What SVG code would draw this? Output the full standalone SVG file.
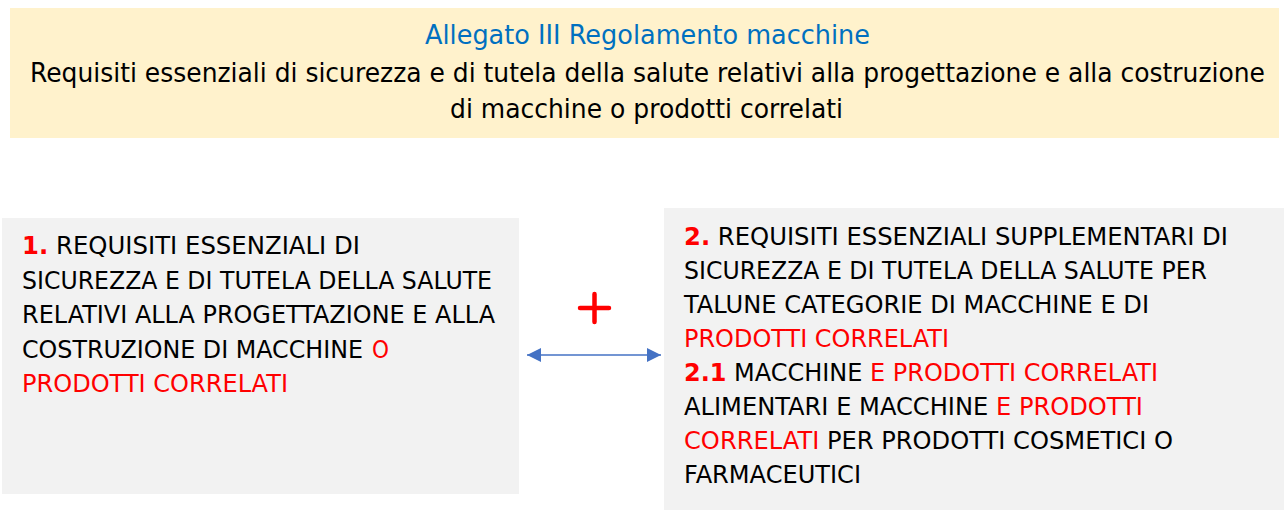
<svg xmlns="http://www.w3.org/2000/svg" width="1284" height="511" viewBox="0 0 1284 511">
<style>
.t{font-family:"DejaVu Sans","Liberation Sans",sans-serif;font-size:25px;fill:#000}
.h{font-family:"DejaVu Sans","Liberation Sans",sans-serif;font-size:26px;fill:#000}
.blue{fill:#0070C0}
.r{fill:#FF0000}
.b{font-weight:bold}
.box{stroke:none}
</style>
<defs>
<marker id="ah" markerUnits="userSpaceOnUse" viewBox="0 0 14 14" refX="14" refY="7" markerWidth="14" markerHeight="14" orient="auto-start-reverse">
<path d="M0,0 L14,7 L0,14 Z" fill="#4472C4"/>
</marker>
</defs>
<rect width="1284" height="511" fill="#FFFFFF"/>
<g id="header">
<rect class="box" x="10" y="8" width="1269" height="130" fill="#FFF2CC"/>
<text class="h blue" x="425" y="44" textLength="445" lengthAdjust="spacingAndGlyphs">Allegato III Regolamento macchine</text>
<text class="h" x="30" y="82" textLength="1235" lengthAdjust="spacingAndGlyphs">Requisiti essenziali di sicurezza e di tutela della salute relativi alla progettazione e alla costruzione</text>
<text class="h" x="450" y="118" textLength="393" lengthAdjust="spacingAndGlyphs">di macchine o prodotti correlati</text>
</g>
<g id="node1">
<rect class="box" x="2" y="218" width="517" height="276" fill="#F2F2F2"/>
<text class="t" x="22" y="254" textLength="338" lengthAdjust="spacingAndGlyphs"><tspan class="r b">1.</tspan> REQUISITI ESSENZIALI DI</text>
<text class="t" x="22" y="289" textLength="470" lengthAdjust="spacingAndGlyphs">SICUREZZA E DI TUTELA DELLA SALUTE</text>
<text class="t" x="22" y="323" textLength="473" lengthAdjust="spacingAndGlyphs">RELATIVI ALLA PROGETTAZIONE E ALLA</text>
<text class="t" x="22" y="358" textLength="341" lengthAdjust="spacingAndGlyphs">COSTRUZIONE DI MACCHINE</text>
<text class="t r" x="372" y="358" textLength="17" lengthAdjust="spacingAndGlyphs">O</text>
<text class="t r" x="22" y="392" textLength="266" lengthAdjust="spacingAndGlyphs">PRODOTTI CORRELATI</text>
</g>
<g id="node2">
<rect class="box" x="664" y="208" width="620" height="302" fill="#F2F2F2"/>
<text class="t" x="684" y="245" textLength="544" lengthAdjust="spacingAndGlyphs"><tspan class="r b">2.</tspan> REQUISITI ESSENZIALI SUPPLEMENTARI DI</text>
<text class="t" x="684" y="279" textLength="523" lengthAdjust="spacingAndGlyphs">SICUREZZA E DI TUTELA DELLA SALUTE PER</text>
<text class="t" x="684" y="313" textLength="465" lengthAdjust="spacingAndGlyphs">TALUNE CATEGORIE DI MACCHINE E DI</text>
<text class="t r" x="684" y="347" textLength="265" lengthAdjust="spacingAndGlyphs">PRODOTTI CORRELATI</text>
<text class="t" x="684" y="381" textLength="474" lengthAdjust="spacingAndGlyphs"><tspan class="r b">2.1</tspan> MACCHINE <tspan class="r">E PRODOTTI CORRELATI</tspan></text>
<text class="t" x="684" y="415" textLength="459" lengthAdjust="spacingAndGlyphs">ALIMENTARI E MACCHINE <tspan class="r">E PRODOTTI</tspan></text>
<text class="t" x="684" y="449" textLength="489" lengthAdjust="spacingAndGlyphs"><tspan class="r">CORRELATI</tspan> PER PRODOTTI COSMETICI O</text>
<text class="t" x="684" y="483" textLength="177" lengthAdjust="spacingAndGlyphs">FARMACEUTICI</text>
</g>
<g id="plus">
<path d="M580,308 H609 M594.5,294 V322" stroke="#FF0000" stroke-width="4.5" stroke-linecap="round" fill="none"/>
</g>
<g id="connectors">
<path d="M527,355 H661" stroke="#4472C4" stroke-width="1.3" fill="none" marker-start="url(#ah)" marker-end="url(#ah)"/>
</g>
</svg>
